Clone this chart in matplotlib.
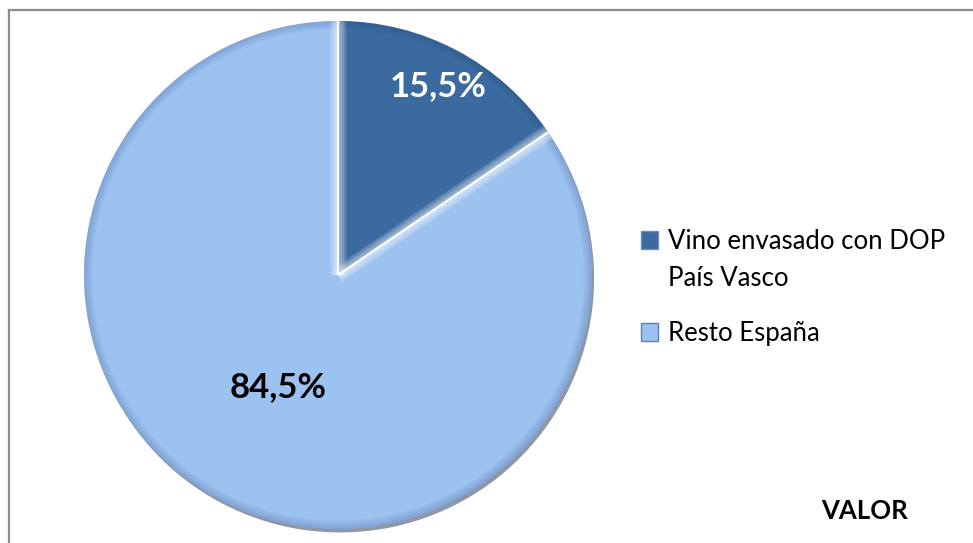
import matplotlib
matplotlib.use("Agg")
import numpy as np
import matplotlib.pyplot as plt
import matplotlib.patheffects as pe
from matplotlib.patches import Arc, Patch
from matplotlib.lines import Line2D

# cuota del vino envasado con DOP (valor)
labels = ["Vino envasado con DOP\nPaís Vasco", "Resto España"]
shares = [15.5, 84.5]
colors = ["#3b6aa0", "#9cc2f0"]
rim_colors = ["#2c5282", "#5a78ad"]
label_colors = ["white", "black"]
label_dist = [0.84, 0.5]
title = "VALOR"

plt.rcParams['font.family'] = ['Lato', 'DejaVu Sans']

W, H = 973, 543
fig = plt.figure(figsize=(W / 100, H / 100), dpi=100)

# pie axes: square box of 508 px around the centre
ax = fig.add_axes([84 / W, (H - 529) / H, 508 / W, 508 / H])
wedges, _ = ax.pie(shares, colors=colors, startangle=90, counterclock=False,
                   radius=1, wedgeprops=dict(edgecolor="none", linewidth=0))
ax.set_xlim(-1, 1)
ax.set_ylim(-1, 1)
ax.set_aspect("equal")
ax.axis("off")

for i, w in enumerate(wedges):
    w.set_path_effects([pe.SimplePatchShadow(offset=(1.5, -2.5), shadow_rgbFace="#33415c", alpha=0.55),
                        pe.Normal()])
    # soft dark rim along the outer arc
    for lw in np.arange(12, 1, -2):
        arc = Arc((0, 0), 2, 2, theta1=w.theta1, theta2=w.theta2, color=rim_colors[i],
                  lw=lw, alpha=0.07, clip_path=w, zorder=3)
        ax.add_patch(arc)
    # highlight along the radial edges
    for t in (w.theta1, w.theta2):
        x, y = np.cos(np.radians(t)), np.sin(np.radians(t))
        for lw in np.arange(12, 1, -2):
            ln = Line2D([0, x], [0, y], color="white", lw=lw, alpha=0.12, zorder=3,
                        solid_capstyle="butt")
            ax.add_line(ln)
            ln.set_clip_path(w)
    mid = np.radians((w.theta1 + w.theta2) / 2)
    txt = f"{shares[i]:.1f}%".replace(".", ",")
    ax.text(label_dist[i] * np.cos(mid), label_dist[i] * np.sin(mid), txt,
            ha="center", va="center", fontsize=25, fontweight="bold",
            color=label_colors[i], zorder=5)

# thin white gap between the slices
for w in wedges:
    x, y = np.cos(np.radians(w.theta1)), np.sin(np.radians(w.theta1))
    ax.plot([0, x], [0, y], color="white", lw=1.5, zorder=4, solid_capstyle="butt")

# legend
lines1 = labels[0].split("\n")
leg_kw = dict(loc="upper left", frameon=False, fontsize=18.5, handlelength=0.65,
              handleheight=0.65, handletextpad=0.4, borderpad=0, borderaxespad=0)
leg1 = fig.legend([Patch(facecolor=colors[0], edgecolor="#6f8fb8"), Patch(facecolor="none", edgecolor="none")],
                  lines1, bbox_to_anchor=(641 / W, 1 - 229 / H), labelspacing=0.47, **leg_kw)
leg2 = fig.legend([Patch(facecolor=colors[1], edgecolor="#5f7fb5")], [labels[1]],
                  bbox_to_anchor=(641 / W, 1 - 321 / H), **leg_kw)

fig.text(821 / W, 1 - 511 / H, title, fontsize=18.5, fontweight="bold", va="center", ha="left")

# chart area border (top and left only in view)
fig.add_artist(Line2D([8.5 / W, 8.5 / W], [0, 1 - 9.5 / H], color="#8c8c8c", lw=1.6))
fig.add_artist(Line2D([8.5 / W, 1], [1 - 9.5 / H, 1 - 9.5 / H], color="#8c8c8c", lw=1.6))

fig.savefig("out.png", dpi=100)
